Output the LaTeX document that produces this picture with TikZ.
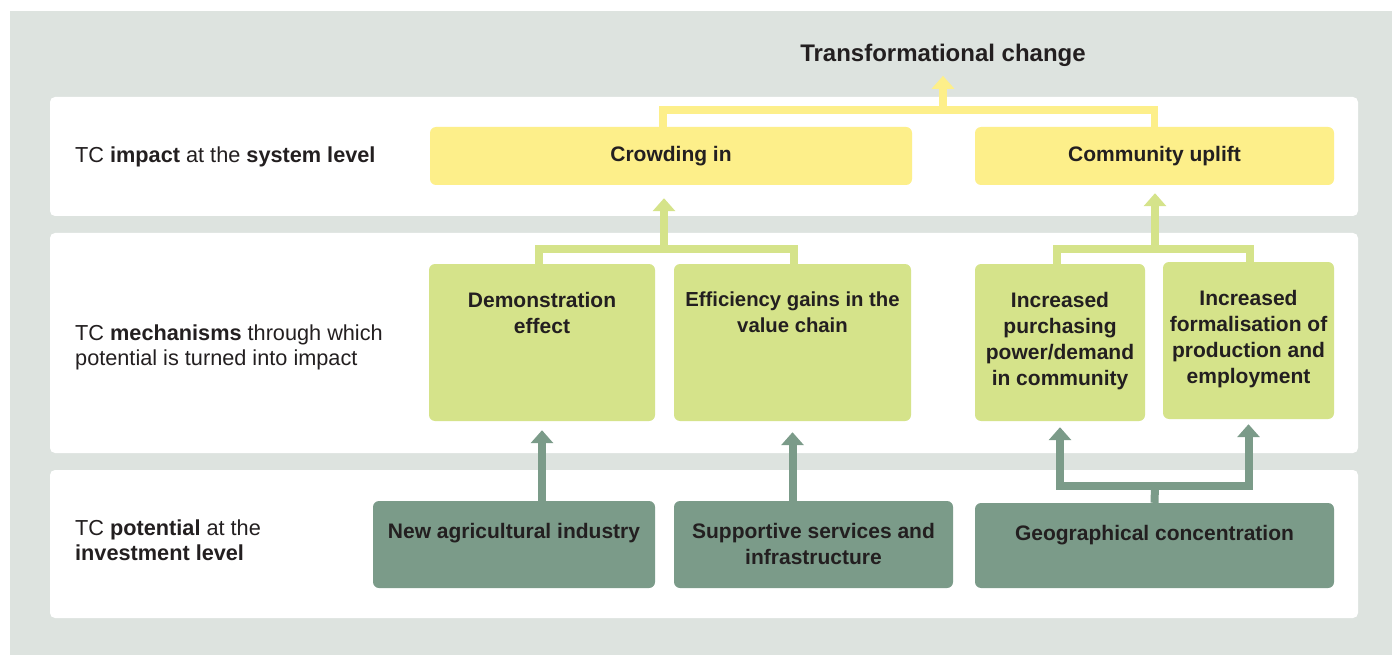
\documentclass[tikz,border=0pt]{standalone}
\usepackage{fontspec}
\setmainfont{Liberation Sans}
\usetikzlibrary{arrows.meta}
\definecolor{bggray}{HTML}{DDE3DF}
\definecolor{ylw}{HTML}{FDEF8A}
\definecolor{lgreen}{HTML}{D5E38A}
\definecolor{dgreen}{HTML}{7B9B89}
\definecolor{txt}{HTML}{231F20}
\begin{document}
\begin{tikzpicture}[x=1pt,y=-1pt,
  band/.style={fill=white, rounded corners=5pt, inner sep=0pt, minimum width=1308pt},
  ybox/.style={fill=ylw, rounded corners=6pt, inner sep=0pt, text=txt, font=\fontsize{21}{26}\selectfont\bfseries},
  gbox/.style={fill=lgreen, rounded corners=6pt, inner sep=0pt},
  dbox/.style={fill=dgreen, rounded corners=6pt, inner sep=0pt},
  btxt/.style={inner sep=0pt, align=center, font=\fontsize{21}{26}\selectfont\bfseries, text=txt},
  ltxt/.style={inner sep=0pt, align=left, font=\fontsize{21.7}{25.5}\selectfont, text=txt},
  yline/.style={draw=ylw, line width=7.5pt},
  gline/.style={draw=lgreen, line width=7.5pt},
  dline/.style={draw=dgreen, line width=8pt},
  arrowed/.style={-{Triangle[width=22pt,length=13pt]}},
]
\useasboundingbox (0,0) rectangle (1392,655);
\fill[bggray] (10,11) rectangle (1392,655);

% bands
\node[band, minimum height=119pt] (b1) at (704,156.5) {};
\node[band, minimum height=220pt] (b2) at (704,343) {};
\node[band, minimum height=148pt] (b3) at (704,544) {};

% left labels
\node[ltxt, anchor=base west] (l1) at (75,162.5) {TC \textbf{impact} at the \textbf{system level}};
\node[ltxt, anchor=north west] (l2) at (75,324.5) {TC \textbf{mechanisms} through which\\potential is turned into impact};
\node[ltxt, anchor=north west] (l3) at (75,519.5) {TC \textbf{potential} at the\\\textbf{investment level}};

% title
\node[btxt, anchor=base, font=\fontsize{24}{28}\selectfont\bfseries] (title) at (943,61.5) {Transformational change};

% impact boxes
\node[ybox, minimum width=482pt, minimum height=58pt] (crowd) at (671,156) {Crowding in};
\node[ybox, minimum width=359pt, minimum height=58pt] (comm) at (1154.5,156) {Community uplift};

% mechanism boxes
\node[gbox, minimum width=226pt, minimum height=157pt] (demo) at (542,342.5) {};
\node[gbox, minimum width=237pt, minimum height=157pt] (eff) at (792.5,342.5) {};
\node[gbox, minimum width=170pt, minimum height=157pt] (inc) at (1060,342.5) {};
\node[gbox, minimum width=171pt, minimum height=157pt] (form) at (1248.5,340.5) {};
\node[btxt, anchor=north] (demot) at (demo.north |- 0,292) {Demonstration\\effect};
\node[btxt, anchor=north, font=\fontsize{20.3}{26}\selectfont\bfseries] (efft) at (eff.north |- 0,292) {Efficiency gains in the\\value chain};
\node[btxt, anchor=north] (inct) at (inc.north |- 0,292) {Increased\\purchasing\\power/demand\\in community};
\node[btxt, anchor=north] (formt) at (form.north |- 0,290) {Increased\\formalisation of\\production and\\employment};

% potential boxes
\node[dbox, minimum width=282pt, minimum height=87pt] (newag) at (514,544.5) {};
\node[dbox, minimum width=279pt, minimum height=87pt] (supp) at (813.5,544.5) {};
\node[dbox, minimum width=359pt, minimum height=85pt] (geo) at (1154.5,545.5) {};
\node[btxt, anchor=north] (newagt) at (newag.north |- 0,523) {New agricultural industry};
\node[btxt, anchor=north] (suppt) at (supp.north |- 0,523) {Supportive services and\\infrastructure};
\node[btxt, anchor=north] (geot) at (geo.north |- 0,525) {Geographical concentration};

% junction coordinates
\coordinate (tj) at (943,110);
\coordinate (gj1) at (664,249);
\coordinate (gj2) at (1155,249);
\coordinate (dj) at (1155,486);

% top connectors
\draw[yline] ([xshift=-8pt]crowd.north) |- (tj) -| (comm.north);
\draw[yline, arrowed, shorten >=9pt] (tj) -- (title.south);

% mechanism connectors
\draw[gline] ([xshift=-3pt]demo.north) |- (gj1) -| ([xshift=1.5pt]eff.north);
\draw[gline, arrowed, shorten >=13pt] (gj1) -- (crowd.south -| gj1);
\draw[gline] ([xshift=-3pt]inc.north) |- (gj2) -| ([xshift=1.5pt]form.north);
\draw[gline, arrowed, shorten >=8pt] (gj2) -- (comm.south -| gj2);

% potential connectors
\draw[dline, arrowed, shorten >=9pt] (newag.north -| demo.south) -- (demo.south);
\draw[dline, arrowed, shorten >=11pt] (supp.north -| eff.south) -- (eff.south);
\draw[dline] (geo.north) -- (dj);
\draw[dline, arrowed, shorten >=6pt] (dj) -| (inc.south);
\draw[dline, arrowed, shorten >=5pt] (dj) -| (form.south);
\end{tikzpicture}
\end{document}
